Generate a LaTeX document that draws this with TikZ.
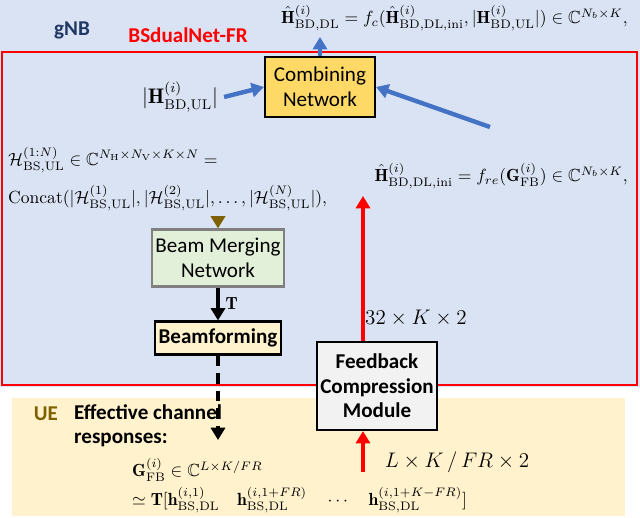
\documentclass[tikz,border=0pt]{standalone}
\usepackage{amsmath,amssymb}
\usepackage{fontspec}
\newfontfamily\carfont{Carlito}
\usetikzlibrary{arrows.meta}
\definecolor{gnbbg}{HTML}{DAE3F3}
\definecolor{uebg}{HTML}{FFF2CC}
\definecolor{combfill}{HTML}{FFD966}
\definecolor{mergefill}{HTML}{E2F0D9}
\definecolor{arrblue}{HTML}{4472C4}
\definecolor{arrbrown}{HTML}{7F6000}
\definecolor{gnbtext}{HTML}{203864}
\tikzset{
  blk/.style={draw=black, line width=1.2pt, align=center, font=\carfont\large, inner sep=2pt},
  barr/.style={-{Triangle[length=7pt,width=8pt]}, line width=2.5pt, arrblue},
  rarr/.style={-{Triangle[length=7pt,width=8pt]}, line width=2pt, red},
  karr/.style={-{Triangle[length=7pt,width=8pt]}, line width=2pt, black},
}
\begin{document}
\begin{tikzpicture}[x=0.02cm,y=-0.02cm]
\useasboundingbox (0,0) rectangle (640,518);
\fill[gnbbg] (0,0) rectangle (640,387);
\draw[red, line width=1.5pt] (2,52) rectangle (637,385);
\fill[uebg] (12,398) rectangle (625,516);

% blocks
\node[blk, fill=combfill, minimum width=110*0.02cm, minimum height=60*0.02cm] (comb) at (320,87) {Combining\\Network};
\node[blk, draw=gray, fill=mergefill, minimum width=113*0.02cm, minimum height=57*0.02cm] (merge) at (218,258) {Beam Merging\\Network};
\node[blk, fill=uebg, font=\carfont\large\bfseries, minimum width=113*0.02cm, minimum height=33*0.02cm] (bf) at (218,338) {Beamforming};
\node[blk, fill=black!5, font=\carfont\large\bfseries, minimum width=115*0.02cm, minimum height=88*0.02cm] (fcm) at (377,386) {Feedback\\Compression\\Module};

% labels
\node[font=\carfont\bfseries\large, text=gnbtext] at (72,30) {gNB};
\node[font=\carfont\bfseries\large, text=red] at (188,35) {BSdualNet-FR};
\node[font=\carfont\bfseries\large, text=arrbrown] at (46,414) {UE};
\node[font=\carfont\bfseries\large, align=left, anchor=north west] at (68,398) {Effective channel\\responses:};

\node[anchor=east] (ftop) at (634,18) {$\hat{\mathbf{H}}^{(i)}_{\mathrm{BD,DL}}=f_c(\hat{\mathbf{H}}^{(i)}_{\mathrm{BD,DL,ini}},|\mathbf{H}^{(i)}_{\mathrm{BD,UL}}|)\in\mathbb{C}^{N_b\times K},$};
\coordinate (ctop) at (320,37);
\node (hul) at (180,97) {\large$|\mathbf{H}^{(i)}_{\mathrm{BD,UL}}|$};
\node[anchor=west] at (2,160) {$\mathcal{H}^{(1:N)}_{\mathrm{BS,UL}}\in\mathbb{C}^{N_{\mathrm{H}}\times N_{\mathrm{V}}\times K\times N}=$};
\node[anchor=west] (concat) at (2,198) {$\mathrm{Concat}(|\mathcal{H}^{(1)}_{\mathrm{BS,UL}}|,|\mathcal{H}^{(2)}_{\mathrm{BS,UL}}|,\dots,|\mathcal{H}^{(N)}_{\mathrm{BS,UL}}|),$};
\coordinate (concatb) at (218,222);
\node[anchor=east] (fre) at (634,176) {$\hat{\mathbf{H}}^{(i)}_{\mathrm{BD,DL,ini}}=f_{re}(\mathbf{G}^{(i)}_{\mathrm{FB}})\in\mathbb{C}^{N_b\times K},$};
\coordinate (freS) at (490,127);
\coordinate (fretop) at (363,196);
\node at (416,318) {\large$32\times K\times 2$};
\node[anchor=west] at (126,470) {$\mathbf{G}^{(i)}_{\mathrm{FB}}\in\mathbb{C}^{L\times K/FR}$};
\node[anchor=west] at (126,500) {$\simeq\mathbf{T}[\mathbf{h}^{(i,1)}_{\mathrm{BS,DL}}\quad\mathbf{h}^{(i,1+FR)}_{\mathrm{BS,DL}}\quad\cdots\quad\mathbf{h}^{(i,1+K-FR)}_{\mathrm{BS,DL}}]$};
\node at (457,462) {\large$L\times K\,/\,FR\times 2$};
\coordinate (dashend) at (218,440);
\coordinate (redstart) at (363,472);

% connectors
\draw[barr] (comb.north) -- (ctop);
\draw[barr] (hul.east) -- (comb.west);
\draw[barr] (freS) -- (comb.east);
\draw[-{Triangle[length=7pt,width=8pt]}, line width=2pt, arrbrown] (concatb) -- (merge.north);
\draw[karr] (merge.south) -- node[right, font=\bfseries] {$\mathbf{T}$} (bf.north);
\draw[karr, dash pattern=on 6pt off 4pt] (bf.south) -- (dashend);
\draw[rarr] (redstart) -- (fcm.south -| redstart);
\draw[rarr] (fcm.north -| redstart) -- (fretop);
\end{tikzpicture}
\end{document}
